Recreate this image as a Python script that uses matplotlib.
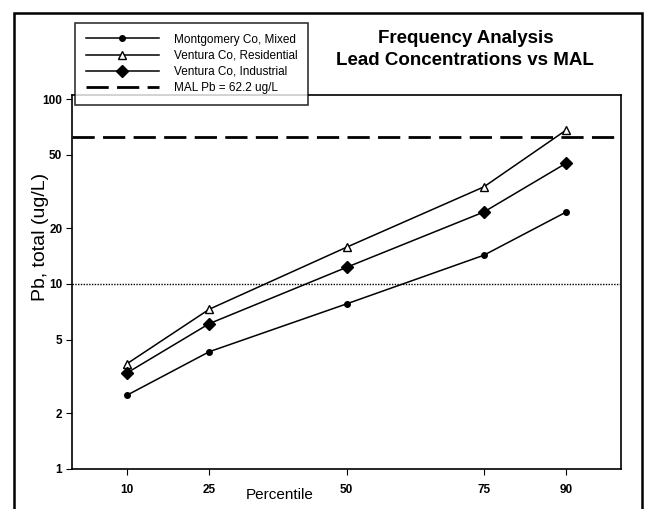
import matplotlib.pyplot as plt
from matplotlib.patches import Rectangle

plt.rcParams['font.family'] = ['Liberation Sans', 'DejaVu Sans']

# Percentile positions
percentiles = [10, 25, 50, 75, 90]

# Lead concentrations (ug/L)
montgomery_mixed = [2.5, 4.3, 7.8, 14.3, 24.5]
ventura_residential = [3.7, 7.3, 15.8, 33.5, 68]
ventura_industrial = [3.3, 6.1, 12.3, 24.5, 45]

mal_pb = 62.2
ref_level = 10

fig = plt.figure(figsize=(6.49, 5.09), dpi=100)
ax = fig.add_axes([0.111, 0.079, 0.846, 0.734])

ax.plot(percentiles, montgomery_mixed, color='black', lw=1.1, marker='o', ms=4,
        label='Montgomery Co, Mixed')
ax.plot(percentiles, ventura_residential, color='black', lw=1.1, marker='^', ms=6,
        mfc='white', mec='black', label='Ventura Co, Residential')
ax.plot(percentiles, ventura_industrial, color='black', lw=1.1, marker='D', ms=6,
        label='Ventura Co, Industrial')
ax.axhline(mal_pb, color='black', lw=2, ls=(0, (8, 3)), label='MAL Pb = 62.2 ug/L')
ax.axhline(ref_level, color='black', lw=1, ls=(0, (1, 1)))

ax.set_yscale('log')
ax.set_ylim(1, 105)
ax.set_xlim(0, 100)
ax.set_yticks([1, 2, 5, 10, 20, 50, 100])
ax.set_yticklabels(['1', '2', '5', '10', '20', '50', '100'])
ax.minorticks_off()
ax.set_xticks(percentiles)
ax.tick_params(direction='out', length=4, labelsize=8.5, pad=3)
ax.tick_params(axis='x', pad=7)
for lab in ax.get_xticklabels() + ax.get_yticklabels():
    lab.set_fontweight('bold')
for sp in ax.spines.values():
    sp.set_linewidth(1.2)

ax.set_ylabel('Pb, total (ug/L)', fontsize=14)
ax.yaxis.set_label_coords(-0.042, 0.62)
ax.set_xlabel('Percentile', fontsize=11)
ax.xaxis.set_label_coords(0.378, -0.051)

leg = fig.legend(loc='upper left', bbox_to_anchor=(0.1156, 0.955), fontsize=8.5,
                 handlelength=6.2, frameon=True, fancybox=False, edgecolor='black',
                 borderpad=0.9, labelspacing=0.35, handletextpad=1.3,
                 borderaxespad=0)
leg.get_frame().set_linewidth(1.2)

fig.text(0.717, 0.925, 'Frequency Analysis', ha='center', va='center',
         fontsize=13.5, weight='bold')
fig.text(0.717, 0.882, 'Lead Concentrations vs MAL', ha='center', va='center',
         fontsize=13.5, weight='bold')

fig.patches.append(Rectangle((0.0216, -0.05), 0.968, 1.024, transform=fig.transFigure,
                             fill=False, edgecolor='black', lw=1.8))

fig.savefig('out.png', dpi=100)
